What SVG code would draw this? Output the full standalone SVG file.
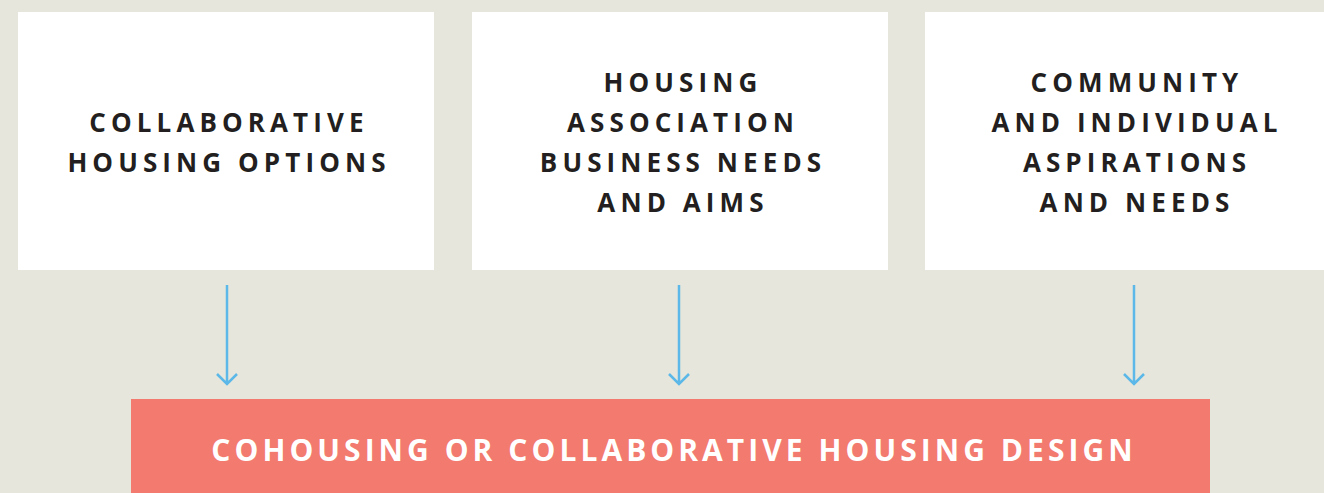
<svg xmlns="http://www.w3.org/2000/svg" width="1324" height="493" viewBox="0 0 1324 493">
<defs>
<style>
.box{fill:#ffffff}
.t{font-family:"Open Sans","Noto Sans",sans-serif;font-weight:700;font-size:26px;letter-spacing:5.1px;fill:#231f20;text-anchor:middle}
.bt{font-family:"Open Sans","Noto Sans",sans-serif;font-weight:700;font-size:30px;letter-spacing:4.05px;fill:#ffffff;text-anchor:middle}
.c{stroke:#5bb8e8;stroke-width:2.5;fill:none}
</style>
</defs>
<rect width="1324" height="493" fill="#e6e6dc"/>
<g id="node-options">
<rect class="box" x="18" y="12" width="416" height="258"/>
<text class="t" x="229" y="132">COLLABORATIVE</text>
<text class="t" x="229" y="172">HOUSING OPTIONS</text>
</g>
<g id="node-association">
<rect class="box" x="472" y="12" width="416" height="258"/>
<text class="t" x="683" y="92">HOUSING</text>
<text class="t" x="683" y="132">ASSOCIATION</text>
<text class="t" x="683" y="172">BUSINESS NEEDS</text>
<text class="t" x="683" y="212">AND AIMS</text>
</g>
<g id="node-community">
<rect class="box" x="925" y="12" width="420" height="258"/>
<text class="t" x="1137" y="92">COMMUNITY</text>
<text class="t" x="1137" y="132">AND INDIVIDUAL</text>
<text class="t" x="1137" y="172">ASPIRATIONS</text>
<text class="t" x="1137" y="212">AND NEEDS</text>
</g>
<g id="node-design">
<rect x="131" y="399" width="1079" height="100" fill="#f27a6e"/>
<text class="bt" x="674" y="461">COHOUSING OR COLLABORATIVE HOUSING DESIGN</text>
</g>
<g id="connectors">
<path class="c" d="M227 285V384M217 374L227 384L237 374"/>
<path class="c" d="M679 285V384M669 374L679 384L689 374"/>
<path class="c" d="M1134 285V384M1124 374L1134 384L1144 374"/>
</g>
</svg>
